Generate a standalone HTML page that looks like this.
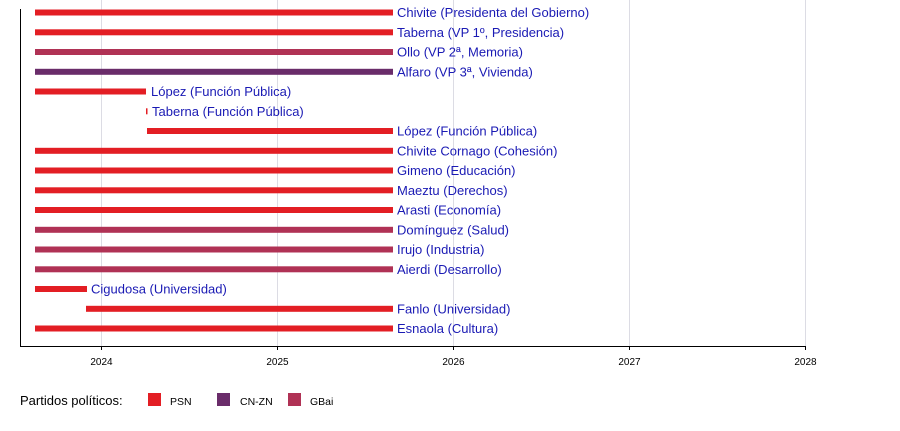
<!DOCTYPE html>
<html><head><meta charset="utf-8"><style>
body{margin:0;background:#fff;width:900px;height:426px;overflow:hidden}
svg text{font-family:"Liberation Sans",sans-serif}
</style></head><body>
<svg width="900" height="426" xmlns="http://www.w3.org/2000/svg">
<g stroke="#dcdce4" stroke-width="1">
<line x1="101.5" y1="0" x2="101.5" y2="346"/>
<line x1="277.5" y1="0" x2="277.5" y2="346"/>
<line x1="453.5" y1="0" x2="453.5" y2="346"/>
<line x1="629.5" y1="0" x2="629.5" y2="346"/>
<line x1="805.5" y1="0" x2="805.5" y2="346"/>
</g>
<line x1="20.5" y1="9" x2="20.5" y2="346" stroke="#000"/>
<line x1="20" y1="346.5" x2="806" y2="346.5" stroke="#000"/>
<g stroke="#000"><line x1="101.5" y1="346" x2="101.5" y2="350"/><line x1="277.5" y1="346" x2="277.5" y2="350"/><line x1="453.5" y1="346" x2="453.5" y2="350"/><line x1="629.5" y1="346" x2="629.5" y2="350"/><line x1="805.5" y1="346" x2="805.5" y2="350"/></g>
<g font-size="10" text-anchor="middle" fill="#000">
<text x="101.5" y="365">2024</text><text x="277.5" y="365">2025</text><text x="453.5" y="365">2026</text><text x="629.5" y="365">2027</text><text x="805.5" y="365">2028</text>
</g>
<g font-size="13" fill="#000"><text x="20" y="405">Partidos políticos:</text></g>
<rect x="148" y="393" width="13" height="13" fill="#e31e24"/>
<rect x="217" y="393" width="13" height="13" fill="#6a2c6a"/>
<rect x="288" y="393" width="13" height="13" fill="#b03255"/>
<g font-size="10.5" fill="#000"><text x="170" y="405">PSN</text><text x="240" y="405">CN-ZN</text><text x="310" y="405">GBai</text></g>
<g font-size="13" fill="#1a1ab4">
<rect x="35" y="9.5" width="358" height="6" fill="#e31e24"/><text x="397" y="17">Chivite (Presidenta del Gobierno)</text>
<rect x="35" y="29.3" width="358" height="6" fill="#e31e24"/><text x="397" y="37">Taberna (VP 1º, Presidencia)</text>
<rect x="35" y="49" width="358" height="6" fill="#b03255"/><text x="397" y="56.5">Ollo (VP 2ª, Memoria)</text>
<rect x="35" y="68.8" width="358" height="6" fill="#6a2c6a"/><text x="397" y="76.5">Alfaro (VP 3ª, Vivienda)</text>
<rect x="35" y="88.5" width="111" height="6" fill="#e31e24"/><text x="151" y="96">López (Función Pública)</text>
<rect x="146" y="108.3" width="1.5" height="6" fill="#e31e24"/><text x="152" y="116">Taberna (Función Pública)</text>
<rect x="147" y="128" width="246" height="6" fill="#e31e24"/><text x="397" y="135.5">López (Función Pública)</text>
<rect x="35" y="147.8" width="358" height="6" fill="#e31e24"/><text x="397" y="155.5">Chivite Cornago (Cohesión)</text>
<rect x="35" y="167.5" width="358" height="6" fill="#e31e24"/><text x="397" y="175">Gimeno (Educación)</text>
<rect x="35" y="187.3" width="358" height="6" fill="#e31e24"/><text x="397" y="195">Maeztu (Derechos)</text>
<rect x="35" y="207" width="358" height="6" fill="#e31e24"/><text x="397" y="214.5">Arasti (Economía)</text>
<rect x="35" y="226.8" width="358" height="6" fill="#b03255"/><text x="397" y="234.5">Domínguez (Salud)</text>
<rect x="35" y="246.5" width="358" height="6" fill="#b03255"/><text x="397" y="254">Irujo (Industria)</text>
<rect x="35" y="266.3" width="358" height="6" fill="#b03255"/><text x="397" y="274">Aierdi (Desarrollo)</text>
<rect x="35" y="286" width="52" height="6" fill="#e31e24"/><text x="91" y="293.5">Cigudosa (Universidad)</text>
<rect x="86" y="305.8" width="307" height="6" fill="#e31e24"/><text x="397" y="313.5">Fanlo (Universidad)</text>
<rect x="35" y="325.5" width="358" height="6" fill="#e31e24"/><text x="397" y="333">Esnaola (Cultura)</text>
</g>
</svg>
</body></html>
